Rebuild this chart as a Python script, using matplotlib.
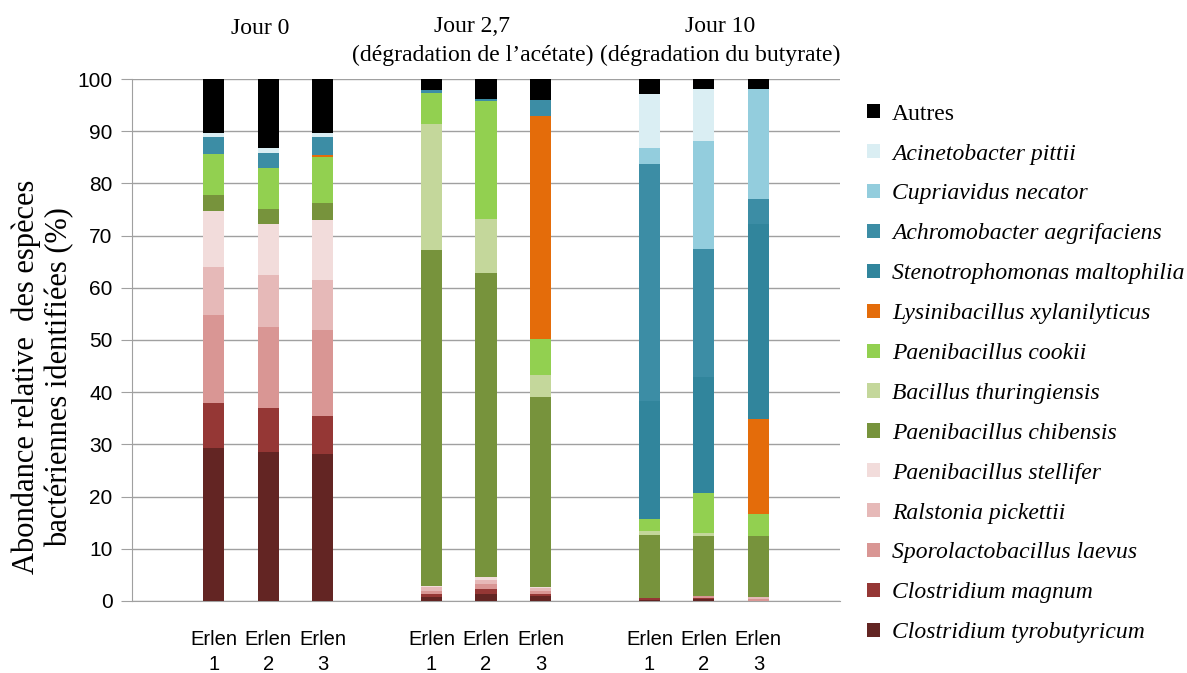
import matplotlib
matplotlib.use("Agg")
import matplotlib.pyplot as plt
import numpy as np

# Relative abundance (%) of each species in the 9 flasks
samples = ["Erlen\n1", "Erlen\n2", "Erlen\n3"] * 3
species = [
    "Clostridium tyrobutyricum", "Clostridium magnum", "Sporolactobacillus laevus",
    "Ralstonia pickettii", "Paenibacillus stellifer", "Paenibacillus chibensis",
    "Bacillus thuringiensis", "Paenibacillus cookii", "Lysinibacillus xylanilyticus",
    "Stenotrophomonas maltophilia", "Achromobacter aegrifaciens", "Cupriavidus necator",
    "Acinetobacter pittii", "Autres",
]
colors = [
    "#632523", "#953735", "#D99694", "#E6B9B8", "#F2DCDB", "#77933C",
    "#C4D79B", "#92D050", "#E46C0A", "#31859C", "#3C8DA5", "#93CDDD",
    "#DAEEF3", "#000000",
]

tyrobutyricum = [29.3, 28.6, 28.1, 0.8, 1.4, 1.0, 0.2, 0.3, 0.0]
magnum        = [8.7, 8.4, 7.4, 0.6, 0.9, 0.4, 0.3, 0.3, 0.0]
laevus        = [16.8, 15.4, 16.4, 0.6, 1.0, 0.5, 0.0, 0.4, 0.3]
pickettii     = [9.1, 10.0, 9.6, 0.6, 0.8, 0.6, 0.0, 0.0, 0.4]
stellifer     = [10.9, 9.8, 11.5, 0.2, 0.5, 0.2, 0.0, 0.0, 0.0]
chibensis     = [3.0, 2.9, 3.3, 64.5, 58.3, 36.3, 12.2, 11.4, 11.7]
thuringiensis = [0.0, 0.0, 0.0, 24.0, 10.3, 4.3, 0.7, 0.7, 0.0]
cookii        = [7.8, 7.8, 8.8, 6.1, 22.6, 6.9, 2.3, 7.6, 4.3]
xylanilyticus = [0.0, 0.0, 0.3, 0.0, 0.0, 42.7, 0.0, 0.0, 18.1]
maltophilia   = [0.0, 0.0, 0.0, 0.0, 0.0, 0.0, 22.6, 22.3, 37.4]
aegrifaciens  = [3.3, 3.0, 3.5, 0.4, 0.4, 3.0, 45.4, 24.4, 4.9]
necator       = [0.0, 0.0, 0.0, 0.0, 0.0, 0.0, 3.1, 20.8, 20.9]
pittii        = [0.7, 0.8, 0.7, 0.0, 0.0, 0.0, 10.4, 9.8, 0.0]
autres        = [10.4, 13.3, 10.4, 2.2, 3.8, 4.1, 2.8, 2.0, 2.0]

series = [tyrobutyricum, magnum, laevus, pickettii, stellifer, chibensis,
          thuringiensis, cookii, xylanilyticus, maltophilia, aegrifaciens,
          necator, pittii, autres]

# one empty category slot between the three sampling days
x = np.array([0, 1, 2, 4, 5, 6, 8, 9, 10])

fig = plt.figure(figsize=(11.87, 6.73), dpi=100)
ax = fig.add_axes([0.1112, 0.1070, 0.5965, 0.7756])

bottom = np.zeros(len(x))
handles = []
for name, vals, col in zip(species, series, colors):
    vals = np.array(vals)
    b = ax.bar(x, vals, width=0.39, bottom=bottom, color=col, label=name,
               edgecolor="none", zorder=3)
    handles.append(b)
    bottom += vals

ax.set_xlim(-1.5, 11.5)
ax.set_ylim(0, 100)
ax.set_yticks(np.arange(0, 101, 10))
ax.yaxis.grid(True, color="#A0A0A0", linewidth=1.0, zorder=0)
ax.set_axisbelow(True)
for s in ["top", "right"]:
    ax.spines[s].set_visible(False)
ax.spines["left"].set_color("#A0A0A0")
ax.spines["bottom"].set_color("#A0A0A0")
ax.tick_params(axis="y", length=8, color="#A0A0A0", labelsize=15, pad=6)
ax.tick_params(axis="x", length=0, labelsize=14.5, pad=21)
ax.set_xticks(x)
ax.set_xticklabels(samples, family="Liberation Sans", linespacing=1.4)
for lab in ax.get_yticklabels():
    lab.set_family("Liberation Sans")

fig.text(0.036, 0.44, "Abondance relative  des espèces\nbactériennes identifiées (%)",
         rotation=90, ha="center", va="center", family="Liberation Serif",
         fontsize=22, linespacing=1.2)

serif = dict(family="Liberation Serif", fontsize=17, ha="center", va="center")
fig.text(260 / 1187, 1 - 29 / 673, "Jour 0", **serif)
fig.text(472 / 1187, 1 - 27 / 673, "Jour 2,7", **serif)
fig.text(473 / 1187, 1 - 55 / 673, "(dégradation de l\u2019acétate)", **serif)
fig.text(720 / 1187, 1 - 27 / 673, "Jour 10", **serif)
fig.text(720 / 1187, 1 - 55 / 673, "(dégradation du butyrate)", **serif)

leg = fig.legend(handles[::-1], species[::-1], loc="upper left",
                 bbox_to_anchor=(0.7225, 0.86), frameon=False,
                 prop={"family": "Liberation Serif", "size": 17},
                 handlelength=0.55, handleheight=0.55, handletextpad=0.5,
                 labelspacing=0.8, borderaxespad=0)
for t in leg.get_texts()[1:]:
    t.set_fontstyle("italic")

fig.savefig("out.png", dpi=100)
